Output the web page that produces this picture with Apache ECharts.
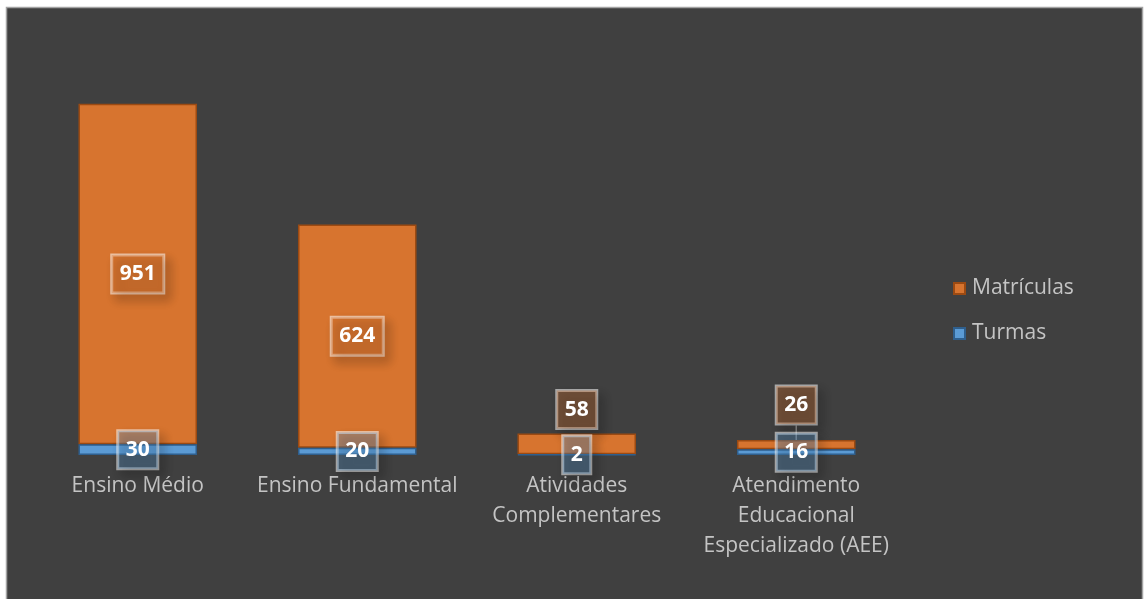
<!DOCTYPE html>
<html>
<head>
<meta charset="utf-8">
<title>Matrículas e Turmas</title>
<script src="https://cdn.jsdelivr.net/npm/echarts@6/dist/echarts.min.js"></script>
<style>
  html, body { margin: 0; padding: 0; background: #ffffff; }
  #chart { width: 1144px; height: 599px; }
</style>
</head>
<body>
<div id="chart"></div>
<script>
// Categories and series values
const categories = [
  'Ensino Médio',
  'Ensino Fundamental',
  'Atividades\nComplementares',
  'Atendimento\nEducacional\nEspecializado (AEE)'
];
const turmas = [30, 20, 2, 16];
const matriculas = [951, 624, 58, 26];

const ORANGE = '#d7742f';
const ORANGE_EDGE = '#9c4a12';
const BLUE = '#5b9bd5';
const BLUE_EDGE = '#2f5f8d';
const FONT = 'Open Sans';
// index of the Matrículas label that is lifted higher, with a leader line
const LIFTED = 3;

// Shared look of the boxed value labels
function boxLabel(fill) {
  return {
    show: true,
    color: '#ffffff',
    fontFamily: FONT,
    fontWeight: 'bold',
    fontSize: 21,
    lineHeight: 24,
    padding: [7, 8, 7, 8],
    backgroundColor: fill,
    borderColor: 'rgba(255,255,255,0.55)',
    borderWidth: 1.5,
    shadowColor: 'rgba(0,0,0,0.45)',
    shadowBlur: 10,
    shadowOffsetX: 5,
    shadowOffsetY: 6
  };
}

// Short bars get their label above the bar instead of inside it
const matriculasData = matriculas.map((v, i) => v < 100
  ? { value: v, label: { position: 'top', distance: 5 }, labelLine: { show: i === LIFTED } }
  : { value: v });

const chart = echarts.init(document.getElementById('chart'), null, { renderer: 'canvas' });

chart.setOption({
  backgroundColor: 'transparent',
  animation: false,
  graphic: [{
    type: 'rect',
    z: -10,
    silent: true,
    shape: { x: 6.5, y: 7.5, width: 1136, height: 600 },
    style: { fill: '#404040', stroke: '#a3a3a3', lineWidth: 1.5 }
  }],
  legend: {
    orient: 'vertical',
    left: 948,
    top: 273,
    itemWidth: 11,
    itemHeight: 11,
    itemGap: 24,
    icon: 'rect',
    data: ['Matrículas', 'Turmas'],
    textStyle: {
      color: '#c4c4c4',
      fontFamily: FONT,
      fontSize: 21,
      lineHeight: 21,
      padding: [0, 0, 0, 2]
    }
  },
  grid: { left: 28, right: 238, top: 97, bottom: 144, containLabel: false },
  xAxis: {
    type: 'category',
    data: categories,
    axisLine: { show: false },
    axisTick: { show: false },
    axisLabel: {
      color: '#c4c4c4',
      fontFamily: FONT,
      fontSize: 21,
      lineHeight: 30,
      margin: 16,
      interval: 0
    }
  },
  yAxis: {
    type: 'value',
    min: 0,
    max: 1000,
    show: false,
    splitLine: { show: false }
  },
  series: [
    {
      name: 'Turmas',
      type: 'bar',
      stack: 'total',
      barWidth: '54%',
      data: turmas,
      itemStyle: { color: BLUE, borderColor: BLUE_EDGE, borderWidth: 1.5 },
      label: Object.assign(boxLabel('rgba(91,155,213,0.32)'), { position: 'inside' }),
      z: 3
    },
    {
      name: 'Matrículas',
      type: 'bar',
      stack: 'total',
      barWidth: '54%',
      data: matriculasData,
      itemStyle: { color: ORANGE, borderColor: ORANGE_EDGE, borderWidth: 1.5 },
      label: Object.assign(boxLabel('rgba(215,116,47,0.32)'), { position: 'inside' }),
      labelLine: { show: false, lineStyle: { color: '#8c8c8c', width: 1.5 } },
      labelLayout: function (params) {
        // lift this label clear of the Turmas label below it
        return params.dataIndex === LIFTED ? { dy: -11 } : {};
      },
      z: 2
    }
  ]
});
</script>
</body>
</html>
